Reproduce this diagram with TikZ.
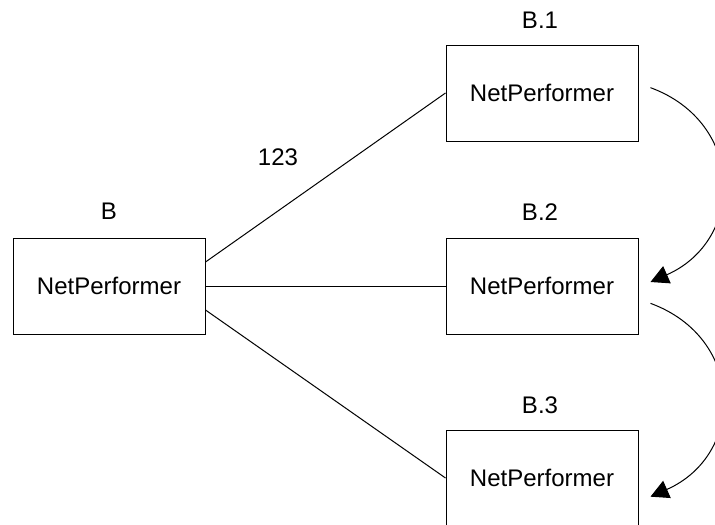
\documentclass[tikz,border=0pt]{standalone}
\usepackage{fontspec}
\setmainfont{Liberation Sans}
\usetikzlibrary{arrows.meta}
\begin{document}
\begin{tikzpicture}[x=0.75pt,y=-0.75pt,line width=0.75pt,
        every node/.style={font=\fontsize{18}{22}\selectfont},
        box/.style={draw,minimum width=144pt,minimum height=72pt,inner sep=0pt}]
        \useasboundingbox(0,0)rectangle(715,525);
        \clip(0,0)rectangle(715,525);
        \node[box](1)at(109,286){NetPerformer};
        \node[box](2)at(542,93){NetPerformer};
        \node[box](3)at(542,286){NetPerformer};
        \node[box](4)at(542,478){NetPerformer};
        \node(5)at(109,211){B};
        \node(6)at(540,20){B.1};
        \node(7)at(540,212){B.2};
        \node(8)at(540,405){B.3};
        \node(9)at(278,157){123};
        \draw([yshift=18pt]1.east)--(2.west);
        \draw(1.east)--(3.west);
        \draw([yshift=-18pt]1.east)--(4.west);
        \draw[-{Triangle[length=13.5pt,width=14pt]}]([xshift=9pt,yshift=4pt]2.east)..controls+(95,35)and+(95,-42)..([xshift=9pt,yshift=3pt]3.east);
        \draw[-{Triangle[length=13.5pt,width=14pt]}]([xshift=9pt,yshift=-13pt]3.east)..controls+(95,35)and+(95,-42)..([xshift=9pt,yshift=-14pt]4.east);
    \end{tikzpicture}
\end{document}
